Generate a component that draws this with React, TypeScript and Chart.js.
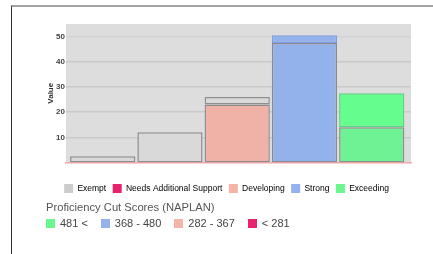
import React, { useEffect, useRef } from 'react';
import { Chart, registerables } from 'chart.js';

Chart.register(...registerables);

const categories = ['Band 1', 'Band 2', 'Band 3', 'Band 4', 'Band 5'];
const lowerValues = [2.5, 12, 23, 47.5, 14];
const upperValues: (number | null)[] = [null, null, 3, 3, 13.5];
const lowerFill = ['#d9d9d9', '#d9d9d9', '#f0b1a6', '#93b1eb', '#6ef294'];
const lowerBorder = ['#8e8e8e', '#8e8e8e', '#8e8e8e', '#8a8a95', '#8e8e8e'];
const upperFill = ['#d9d9d9', '#d9d9d9', '#d9d9d9', '#93b1eb', '#66fd8f'];
const upperBorder = ['#8e8e8e', '#8e8e8e', '#8e8e8e', '#7e9de6', '#57d57c'];
const yTicks = [10, 20, 30, 40, 50];
const legendLabels = ['Exempt', 'Needs Additional Support', 'Developing', 'Strong', 'Exceeding'];
const legendColors = ['#cccccc', '#e8236e', '#f4b4a6', '#94b2ee', '#6bf68e'];
const cutTitle = 'Proficiency Cut Scores (NAPLAN)';
const cutLabels = ['481 <', '368 - 480', '282 - 367', '< 281'];
const cutColors = ['#6bf68e', '#94b2ee', '#f4b4a6', '#e8236e'];

const FONT = '"Liberation Sans", Arial, sans-serif';

const bgPlugin = {
  id: 'plotBg',
  beforeDraw(chart: any) {
    const { ctx, chartArea } = chart;
    if (!chartArea) return;
    const { left, top, right, bottom } = chartArea;
    ctx.save();
    ctx.fillStyle = '#dddddd';
    ctx.fillRect(left, top, right - left, bottom - top);
    ctx.restore();
  },
};

export default function App() {
  const ref = useRef<HTMLCanvasElement>(null);

  useEffect(() => {
    if (!ref.current) return;
    const chart = new Chart(ref.current, {
      type: 'bar',
      data: {
        datasets: [
          {
            label: 'lower',
            data: categories.map((_, i) => ({ x: i, y: lowerValues[i] })) as any,
            backgroundColor: lowerFill,
            borderColor: lowerBorder,
            borderWidth: 1.5,
            borderSkipped: false,
            stack: 's',
            barPercentage: 0.97,
            categoryPercentage: 1,
          },
          {
            label: 'upper',
            data: categories.map((_, i) => ({ x: i, y: upperValues[i] })) as any,
            backgroundColor: upperFill,
            borderColor: upperBorder,
            borderWidth: 1.5,
            borderSkipped: false,
            stack: 's',
            barPercentage: 0.97,
            categoryPercentage: 1,
          },
        ],
      },
      options: {
        animation: false,
        responsive: false,
        events: [],
        layout: { padding: { left: 30, right: 22, top: 16, bottom: 0 } },
        scales: {
          x: {
            type: 'linear',
            stacked: true,
            offset: false,
            min: -0.546,
            max: 4.584,
            bounds: 'ticks',
            grid: { display: false },
            ticks: { display: false },
            border: { color: '#f3a7a7', width: 1.5 },
            afterDataLimits: (s: any) => {
              s.min = -0.546;
              s.max = 4.584;
            },
            afterFit: (s: any) => {
              s.height = 15;
            },
          },
          y: {
            stacked: true,
            min: 0,
            max: 55,
            afterBuildTicks: (s: any) => {
              s.ticks = yTicks.map((v) => ({ value: v }));
            },
            grid: {
              color: (c: any) => (c.tick && c.tick.value === 50 ? '#d2d2d2' : '#c9c9c9'),
              lineWidth: 1.5,
              drawTicks: false,
            },
            border: { display: false },
            ticks: {
              padding: 1,
              color: '#444',
              font: { family: FONT, size: 8, weight: 'bold' },
            },
            title: {
              display: true,
              text: 'Value',
              color: '#333',
              font: { family: FONT, size: 8, weight: 'bold' },
              padding: { top: 4, bottom: 0 },
            },
            afterFit: (s: any) => {
              s.width = 24;
            },
          },
        },
        plugins: {
          legend: {
            position: 'bottom',
            labels: {
              boxWidth: 9,
              boxHeight: 9,
              padding: 6.5,
              color: '#333',
              font: { family: FONT, size: 8.5 },
              generateLabels: () =>
                legendLabels.map((t, i) => ({
                  text: t,
                  fillStyle: legendColors[i],
                  strokeStyle: legendColors[i],
                  lineWidth: 0,
                  hidden: false,
                  datasetIndex: i,
                })) as any,
            },
          },
          tooltip: { enabled: false },
        },
      } as any,
      plugins: [bgPlugin],
    });
    return () => chart.destroy();
  }, []);

  return (
    <div
      style={{
        position: 'fixed',
        left: 0,
        top: 0,
        width: 433,
        height: 254,
        background: '#fff',
        overflow: 'hidden',
        fontFamily: FONT,
      }}
    >
      <div
        style={{
          position: 'absolute',
          left: 11,
          top: 5,
          width: 422,
          height: 249,
          borderTop: '2px solid #a3a3a3',
          borderLeft: '1px solid #333',
          boxSizing: 'border-box',
        }}
      />
      <canvas
        ref={ref}
        width={421}
        height={195}
        style={{ position: 'absolute', left: 12, top: 8, width: 421, height: 195 }}
      />
      <div
        style={{
          position: 'absolute',
          left: 46,
          top: 201.3,
          fontSize: 11.2,
          lineHeight: '13px',
          color: '#555',
          whiteSpace: 'nowrap',
        }}
      >
        {cutTitle}
      </div>
      <div
        style={{
          position: 'absolute',
          left: 46,
          top: 216.7,
          display: 'flex',
          alignItems: 'center',
          fontSize: 11,
          lineHeight: '13px',
          color: '#444',
          whiteSpace: 'nowrap',
        }}
      >
        {cutLabels.map((t, i) => (
          <div key={t} style={{ display: 'flex', alignItems: 'center', marginRight: 13 }}>
            <span
              style={{
                display: 'inline-block',
                width: 9,
                height: 9,
                background: cutColors[i],
                marginRight: 5,
              }}
            />
            <span>{t}</span>
          </div>
        ))}
      </div>
    </div>
  );
}
